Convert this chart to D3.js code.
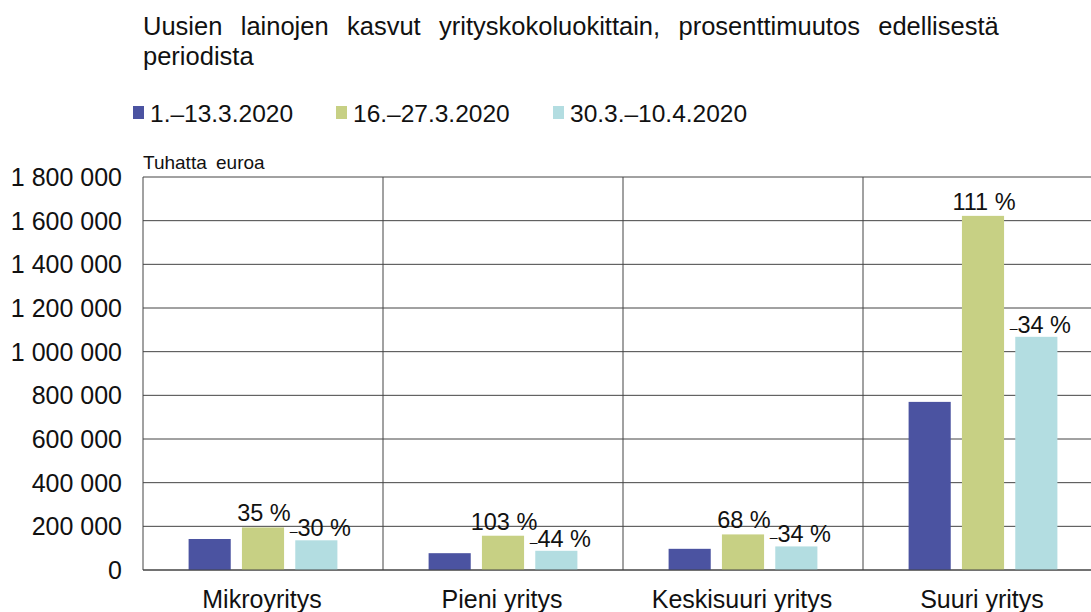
<!DOCTYPE html>
<html>
<head>
<meta charset="utf-8">
<script src="https://cdn.jsdelivr.net/npm/d3@7"></script>
<style>
  body { margin: 0; background: #fff; }
  svg { font-family: "Liberation Sans", Arial, sans-serif; }
</style>
</head>
<body>
<svg id="chart" width="1091" height="612"></svg>
<script>
var categories = ["Mikroyritys", "Pieni yritys", "Keskisuuri yritys", "Suuri yritys"];
var seriesNames = ["1.\u201313.3.2020", "16.\u201327.3.2020", "30.3.\u201310.4.2020"];
var period1 = [142000, 77000, 97000, 770000];
var period2 = [195000, 157000, 163000, 1622000];
var period3 = [136000, 88000, 108000, 1068000];
var labels2 = ["35 %", "103 %", "68 %", "111 %"];
var labels3 = ["30 %", "44 %", "34 %", "34 %"];
var yTicks = [0, 200000, 400000, 600000, 800000, 1000000, 1200000, 1400000, 1600000, 1800000];
var colors = ["#4b53a1", "#c7d084", "#b3dde1"];

var svg = d3.select("#chart");
var margin = { top: 177, left: 143 },
  width = 960,
  height = 393;
var g = svg.append("g").attr("transform", "translate(" + margin.left + "," + margin.top + ")");

// title, first line justified to end near x=1010
var t1 = svg.append("text").attr("x", 143).attr("y", 35).attr("font-size", 25.5).attr("fill", "#111")
  .text("Uusien lainojen kasvut yrityskokoluokittain, prosenttimuutos edellisest\u00e4");
var extra = (1010 - 143 - t1.node().getComputedTextLength()) / 6;
if (extra > 0) t1.attr("word-spacing", extra);
svg.append("text").attr("x", 143).attr("y", 65).attr("font-size", 25.5).attr("fill", "#111")
  .text("periodista");

// legend
var legendX = [133, 336, 553];
seriesNames.forEach(function(name, i) {
  svg.append("rect").attr("x", legendX[i]).attr("y", 106).attr("width", 11).attr("height", 13)
    .attr("fill", colors[i]);
  svg.append("text").attr("x", legendX[i] + 17).attr("y", 122).attr("font-size", 24.5)
    .attr("fill", "#111").text(name);
});

var x0 = d3.scaleBand().domain(categories).range([0, width]);
var x1 = d3.scaleBand().domain([0, 1, 2]).range([0, x0.bandwidth()])
  .paddingInner(0.21).paddingOuter(0.855);
var y = d3.scaleLinear().domain([0, 1800000]).range([height, 0]);

// grid
g.selectAll(".grid").data(yTicks).enter().append("line")
  .attr("x1", 0).attr("x2", width)
  .attr("y1", d => y(d)).attr("y2", d => y(d))
  .attr("stroke", "#444").attr("stroke-width", 1);

// category separators
g.selectAll(".sep").data(categories).enter().append("line")
  .attr("x1", d => x0(d)).attr("x2", d => x0(d))
  .attr("y1", 0).attr("y2", height)
  .attr("stroke", "#444").attr("stroke-width", 1);

// y tick labels
var fmt = function(v) { return d3.format(",")(v).replace(/,/g, " "); };
g.selectAll(".ytick").data(yTicks).enter().append("text")
  .attr("x", -21).attr("y", d => y(d)).attr("dy", "0.36em")
  .attr("text-anchor", "end").attr("font-size", 25).attr("fill", "#111")
  .text(d => fmt(d));

svg.append("text").attr("x", 143).attr("y", 169).attr("font-size", 19).attr("fill", "#111")
  .attr("word-spacing", 4).text("Tuhatta euroa");

// bars
var series = [period1, period2, period3];
series.forEach(function(vals, s) {
  g.selectAll(".bar" + s).data(categories).enter().append("rect")
    .attr("x", d => x0(d) + x1(s))
    .attr("width", x1.bandwidth())
    .attr("y", (d, i) => y(vals[i]))
    .attr("height", (d, i) => height - y(vals[i]))
    .attr("fill", colors[s]);
});

// bottom axis line on top of bars
g.append("line").attr("x1", 0).attr("x2", width).attr("y1", height).attr("y2", height)
  .attr("stroke", "#444");

// value labels
g.selectAll(".lab2").data(categories).enter().append("text")
  .attr("x", d => x0(d) + x1(1) + x1.bandwidth() / 2 + 1)
  .attr("y", (d, i) => y(period2[i]) - 6)
  .attr("text-anchor", "middle").attr("font-size", 23.5).attr("fill", "#111")
  .text((d, i) => labels2[i]);

var lab3 = g.selectAll(".lab3").data(categories).enter().append("text")
  .attr("x", d => x0(d) + x1(2) + x1.bandwidth() / 2 + 4)
  .attr("y", (d, i) => y(period3[i]) - 4)
  .attr("text-anchor", "middle").attr("font-size", 23.5).attr("fill", "#111");
lab3.append("tspan").attr("font-size", 14).text("\u2013");
lab3.append("tspan").text((d, i) => labels3[i]);

// category labels
g.selectAll(".cat").data(categories).enter().append("text")
  .attr("x", d => x0(d) + x0.bandwidth() / 2 - 1)
  .attr("y", height + 38)
  .attr("text-anchor", "middle").attr("font-size", 25).attr("fill", "#111")
  .text(d => d);
</script>
</body>
</html>
